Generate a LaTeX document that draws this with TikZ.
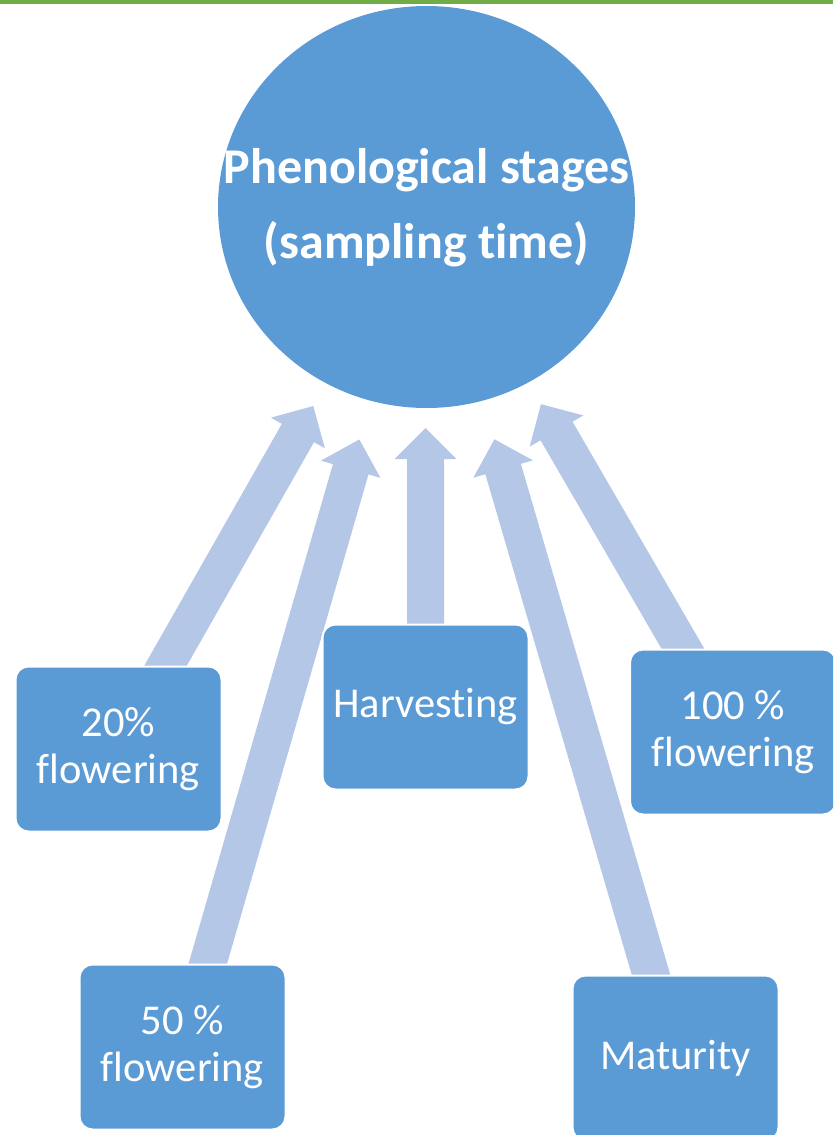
\documentclass[tikz,border=0pt]{standalone}
\usepackage{fontspec}
\setmainfont{Carlito}[Ligatures=NoCommon]
\usetikzlibrary{calc,shapes.geometric}
\definecolor{mainblue}{HTML}{5B9BD5}
\definecolor{arrowblue}{HTML}{B4C7E7}
\definecolor{topgreen}{HTML}{70AD47}
\tikzset{
  stagebox/.style={rectangle, rounded corners=13pt, fill=mainblue, draw=white, line width=2pt,
    minimum width=206pt, minimum height=165pt, inner sep=0pt, text=white, align=center,
    font=\fontsize{42.5}{47}\selectfont},
  hub/.style={ellipse, fill=mainblue, minimum width=417pt, minimum height=402pt, inner sep=0pt},
  hubtext/.style={text=white, align=center, inner sep=0pt, font=\fontsize{50}{75}\selectfont\bfseries},
  arrowfill/.style={fill=arrowblue}
}
\newcommand\blockarr[2]{%
  \coordinate (hb) at ($(#2)!31pt!(#1)$);
  \fill[arrowfill] ($(#1)!18.5pt!90:(#2)$) -- ($(hb)!18.5pt!90:(#2)$) -- ($(hb)!31pt!90:(#2)$)
    -- (#2) -- ($(hb)!31pt!-90:(#2)$) -- ($(hb)!18.5pt!-90:(#2)$) -- ($(#1)!18.5pt!-90:(#2)$) -- cycle;
}
\begin{document}
\begin{tikzpicture}[x=1pt,y=-1pt]
\useasboundingbox (0,0) rectangle (833,1135);
\clip (0,0) rectangle (833,1135);
\fill[topgreen] (0,0) rectangle (833,4);
% hub
\node[hub] (c) at (426.5,207) {};
\node[hubtext] (ct) at (426.5,208) {Phenological stages\\(sampling time)};
% arrow start points (hidden under boxes)
\coordinate (s20) at (151.7,690);
\coordinate (s50) at (200.2,990);
\coordinate (sh) at (425.5,650);
\coordinate (sm) at (658.4,1000);
\coordinate (s100) at (698.2,675);
% arrow tips
\coordinate (t20) at ($(c.center)!229pt!(s20)$);
\coordinate (t50) at ($(c.center)!242pt!(s50)$);
\coordinate (th) at (425.5,428);
\coordinate (tm) at ($(c.center)!242pt!(sm)$);
\coordinate (t100) at ($(c.center)!228pt!(s100)$);
\blockarr{s20}{t20}
\blockarr{s50}{t50}
\blockarr{sh}{th}
\blockarr{sm}{tm}
\blockarr{s100}{t100}
% boxes
\node[stagebox] (b20) at (118.5,749) {20\%\\flowering};
\node[stagebox] (bh) at (425.5,707) {Harvesting};
\node[stagebox] (b100) at (733,732) {100 \%\\flowering};
\node[stagebox] (b50) at (182.5,1047) {50 \%\\flowering};
\node[stagebox] (bm) at (675.5,1058) {Maturity};
\end{tikzpicture}
\end{document}
